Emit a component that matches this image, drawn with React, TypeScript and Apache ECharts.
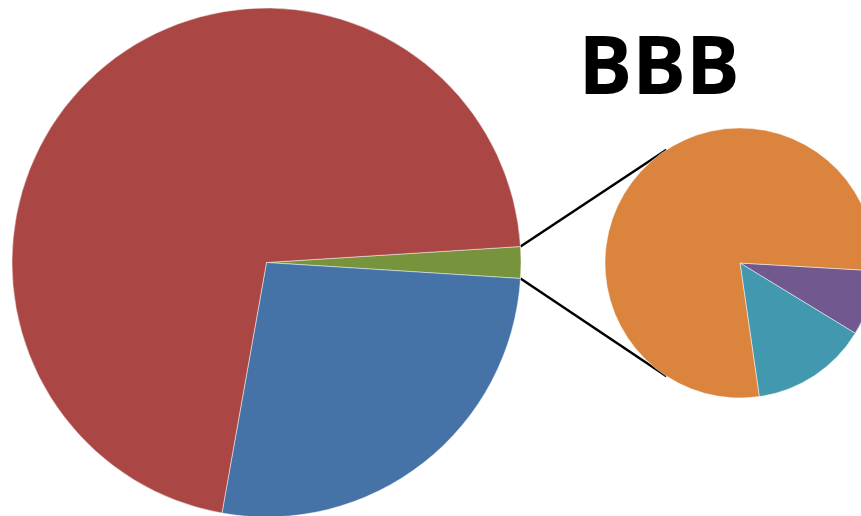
import React, { useEffect, useRef } from "react";
import * as echarts from "echarts";

const mainCategories = ["Green", "Blue", "Red"];
const mainValues = [2.0, 26.8, 71.2];
const mainColors = ["#77933C", "#4572A7", "#AA4643"];

const subCategories = ["Purple", "Teal", "Orange"];
const subValues = [7.8, 14.0, 78.2];
const subColors = ["#71588F", "#4198AF", "#DB843D"];

const titleText = "BBB";

export default function App() {
  const ref = useRef<HTMLDivElement>(null);
  useEffect(() => {
    if (!ref.current) return;
    const chart = echarts.init(ref.current, null, { renderer: "svg" });

    const mainC = [266.5, 262.5];
    const mainR = 254.5;
    const subC = [740, 263];
    const subR = 135;

    const mainTotal = mainValues.reduce((a, b) => a + b, 0);
    const mainStart = (mainValues[0] / mainTotal) * 180;
    const subStart = -3.3;

    const a1 = (mainStart * Math.PI) / 180;
    const p1 = [mainC[0] + mainR * Math.cos(a1), mainC[1] - mainR * Math.sin(a1)];
    const p2 = [mainC[0] + mainR * Math.cos(a1), mainC[1] + mainR * Math.sin(a1)];
    const ang = (123 * Math.PI) / 180;
    const q1 = [subC[0] + subR * Math.cos(ang), subC[1] - subR * Math.sin(ang)];
    const q2 = [subC[0] + subR * Math.cos(ang), subC[1] + subR * Math.sin(ang)];

    chart.setOption({
      animation: false,
      title: {
        text: titleText,
        left: 654,
        top: 17,
        textAlign: "center",
        textStyle: {
          fontFamily: "Open Sans",
          fontWeight: "bold",
          fontSize: 80,
          color: "#000",
        },
      },
      graphic: [
        {
          type: "line",
          shape: { x1: p1[0], y1: p1[1], x2: q1[0], y2: q1[1] },
          style: { stroke: "#000", lineWidth: 2.5 },
          z: 0,
        },
        {
          type: "line",
          shape: { x1: p2[0], y1: p2[1], x2: q2[0], y2: q2[1] },
          style: { stroke: "#000", lineWidth: 2.5 },
          z: 0,
        },
      ],
      series: [
        {
          type: "pie",
          center: mainC,
          radius: [0, mainR],
          startAngle: mainStart,
          clockwise: true,
          label: { show: false },
          labelLine: { show: false },
          emphasis: { disabled: true },
          itemStyle: { borderColor: "rgba(255,255,255,0.6)", borderWidth: 0.8 },
          data: mainCategories.map((n, i) => ({
            name: n,
            value: mainValues[i],
            itemStyle: { color: mainColors[i] },
          })),
          z: 2,
        },
        {
          type: "pie",
          center: subC,
          radius: [0, subR],
          startAngle: subStart,
          clockwise: true,
          label: { show: false },
          labelLine: { show: false },
          emphasis: { disabled: true },
          itemStyle: { borderColor: "rgba(255,255,255,0.6)", borderWidth: 0.8 },
          data: subCategories.map((n, i) => ({
            name: n,
            value: subValues[i],
            itemStyle: { color: subColors[i] },
          })),
          z: 2,
        },
      ],
    });
    return () => chart.dispose();
  }, []);
  return (
    <div
      ref={ref}
      style={{ position: "fixed", left: 0, top: 0, width: 861, height: 516, background: "#fff" }}
    />
  );
}
